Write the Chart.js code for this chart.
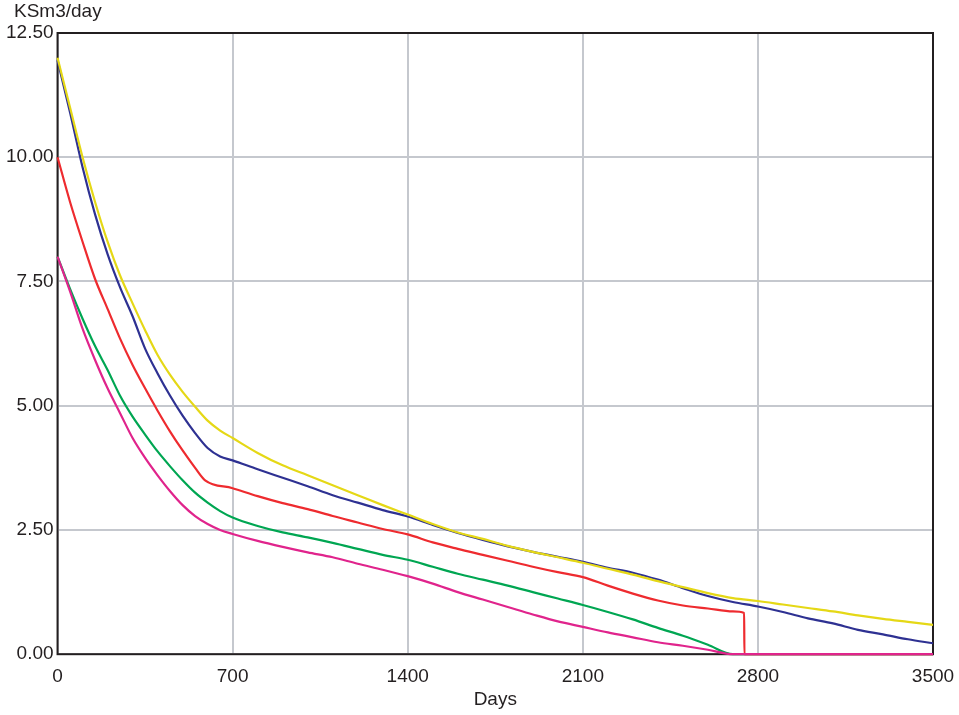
<!DOCTYPE html>
<html>
<head>
<meta charset="utf-8">
<script src="https://cdn.jsdelivr.net/npm/chart.js@4"></script>
<style>
  html, body { margin: 0; padding: 0; background: #fff; }
  #wrap { width: 959px; height: 715px; }
</style>
</head>
<body>
<div id="wrap"><canvas id="rateChart"></canvas></div>
<script>
var xTicks = [0, 700, 1400, 2100, 2800, 3500];
var yTicks = [0, 2.5, 5, 7.5, 10, 12.5];

var days = [0, 50, 100, 150, 200, 250, 300, 350, 400, 450, 500, 550, 600, 650, 700,
            800, 900, 1000, 1100, 1200, 1300, 1400, 1500, 1600, 1700, 1800, 1900, 2000,
            2100, 2200, 2300, 2400, 2500, 2600, 2700, 2800, 2900, 3000, 3100, 3200,
            3300, 3400, 3500];

var yellowRate = [12.0, 11.0, 10.0, 9.1, 8.3, 7.62, 7.06, 6.52, 6.02, 5.62, 5.28, 4.98, 4.70, 4.50, 4.35,
                  4.05, 3.80, 3.60, 3.40, 3.20, 3.00, 2.81, 2.62, 2.45, 2.32, 2.18, 2.06, 1.95,
                  1.84, 1.72, 1.60, 1.47, 1.35, 1.23, 1.13, 1.07, 1.00, 0.93, 0.86, 0.78,
                  0.71, 0.65, 0.59];

var blueRate = [11.95, 10.9, 9.8, 8.85, 8.05, 7.38, 6.8, 6.15, 5.65, 5.2, 4.8, 4.45, 4.15, 3.98, 3.9,
                3.72, 3.55, 3.38, 3.20, 3.05, 2.90, 2.77, 2.60, 2.44, 2.30, 2.17, 2.06, 1.96,
                1.86, 1.74, 1.64, 1.50, 1.33, 1.17, 1.05, 0.96, 0.85, 0.72, 0.62, 0.49,
                0.40, 0.30, 0.22];

var redDays = [0, 50, 100, 150, 200, 250, 300, 350, 400, 450, 500, 550, 590, 700,
               800, 900, 1000, 1100, 1200, 1300, 1400, 1500, 1600, 1700, 1800, 1900, 2000,
               2100, 2200, 2300, 2400, 2500, 2600, 2700, 2745, 2746, 3500];
var redRate = [10.0, 9.1, 8.3, 7.55, 6.95, 6.35, 5.82, 5.35, 4.9, 4.48, 4.1, 3.75, 3.5, 3.34,
               3.18, 3.04, 2.92, 2.78, 2.65, 2.52, 2.41, 2.25, 2.12, 2.00, 1.88, 1.76, 1.65,
               1.55, 1.38, 1.22, 1.08, 0.98, 0.92, 0.86, 0.83, 0, 0];

var greenRate = [8.0, 7.35, 6.75, 6.2, 5.72, 5.2, 4.78, 4.42, 4.08, 3.78, 3.5, 3.25, 3.05, 2.88, 2.75,
                 2.58, 2.45, 2.35, 2.24, 2.12, 2.00, 1.90, 1.76, 1.62, 1.50, 1.38, 1.25, 1.12,
                 0.99, 0.85, 0.70, 0.53, 0.37, 0.19, 0, 0, 0, 0, 0, 0,
                 0, 0, 0];

var pinkRate = [8.0, 7.3, 6.55, 5.92, 5.35, 4.85, 4.35, 3.95, 3.6, 3.28, 3.0, 2.78, 2.62, 2.5, 2.42,
                2.28, 2.16, 2.05, 1.95, 1.82, 1.70, 1.57, 1.42, 1.25, 1.10, 0.95, 0.80, 0.66,
                0.55, 0.44, 0.34, 0.24, 0.17, 0.09, 0, 0, 0, 0, 0, 0,
                0, 0, 0];

function pts(xs, ys) {
  return xs.map(function(d, i) { return { x: d, y: ys[i] }; });
}

var FONT = '"Liberation Sans", Arial, sans-serif';

// frame round the plot (under the lines), unit label top left, axis name under the x ticks
var framePlugin = {
  id: 'frame',
  beforeDatasetsDraw: function(chart) {
    var c = chart.ctx, a = chart.chartArea;
    c.save();
    c.strokeStyle = '#231f20';
    c.lineWidth = 2;
    c.strokeRect(a.left, a.top, a.right - a.left, a.bottom - a.top);
    c.restore();
  },
  afterDraw: function(chart) {
    var c = chart.ctx, a = chart.chartArea;
    c.save();
    c.fillStyle = '#231f20';
    c.font = '19px ' + FONT;
    c.textBaseline = 'middle';
    c.textAlign = 'left';
    c.fillText('KSm3/day', 14, 12);
    c.textAlign = 'center';
    c.fillText('Days', (a.left + a.right) / 2, a.bottom + 46);
    c.restore();
  }
};

function line(label, data, color) {
  return {
    label: label,
    data: data,
    borderColor: color,
    borderWidth: 2.2,
    pointRadius: 0,
    fill: false,
    clip: 2,
    cubicInterpolationMode: 'monotone'
  };
}

var ctx = document.getElementById('rateChart').getContext('2d');
var chart = new Chart(ctx, {
  type: 'line',
  data: {
    datasets: [
      line('Case 5', pts(days, pinkRate), '#e0248c'),
      line('Case 1', pts(days, yellowRate), '#e5d816'),
      line('Case 2', pts(days, blueRate), '#2e3192'),
      line('Case 3', pts(redDays, redRate), '#ee2b2f'),
      line('Case 4', pts(days, greenRate), '#00a652')
    ]
  },
  options: {
    responsive: true,
    maintainAspectRatio: false,
    animation: false,
    layout: { padding: { top: 33, right: 26, bottom: 16, left: 2 } },
    plugins: {
      legend: { display: false },
      tooltip: { enabled: false }
    },
    scales: {
      x: {
        type: 'linear',
        min: 0,
        max: 3500,
        afterBuildTicks: function(axis) {
          axis.ticks = xTicks.map(function(v) { return { value: v }; });
        },
        afterFit: function(axis) {
          axis.paddingRight = 0;
        },
        grid: { color: '#c5c8ce', lineWidth: 2, drawTicks: false },
        border: { display: false },
        ticks: {
          padding: 11,
          color: '#231f20',
          maxRotation: 0,
          font: { family: FONT, size: 19 },
          callback: function(v) { return String(v); }
        }
      },
      y: {
        min: 0,
        max: 12.5,
        afterBuildTicks: function(axis) {
          axis.ticks = yTicks.map(function(v) { return { value: v }; });
        },
        grid: { color: '#c5c8ce', lineWidth: 2, drawTicks: false },
        border: { display: false },
        ticks: {
          padding: 4,
          color: '#231f20',
          font: { family: FONT, size: 19 },
          callback: function(v) { return Number(v).toFixed(2); }
        }
      }
    }
  },
  plugins: [framePlugin]
});
</script>
</body>
</html>
